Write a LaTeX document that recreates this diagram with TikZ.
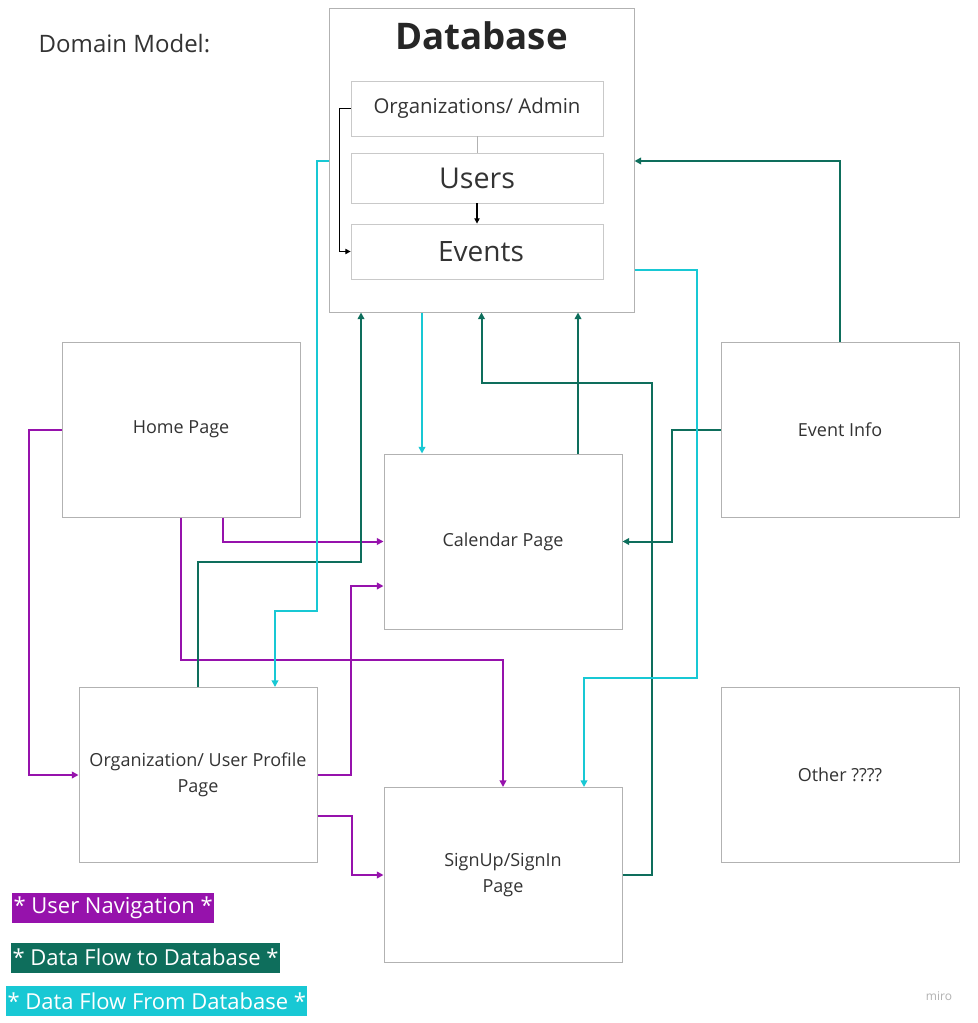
\documentclass[tikz,border=0pt]{standalone}
\usepackage{fontspec}
\setmainfont{Open Sans}
\usepackage{xcolor}
\usetikzlibrary{arrows.meta, positioning}

\definecolor{navpurple}{RGB}{150,18,172}
\definecolor{todbgreen}{RGB}{14,110,92}
\definecolor{fromdbcyan}{RGB}{24,200,212}
\definecolor{boxgray}{RGB}{178,178,178}
\definecolor{textgray}{RGB}{51,51,51}

\tikzset{
  page/.style={draw=boxgray, line width=0.75pt, minimum width=178.5pt, minimum height=131.25pt,
    inner sep=0pt, align=center, text=textgray, font=\fontsize{13.5}{19.5}\selectfont},
  table/.style={draw=boxgray!70, line width=0.6pt, minimum width=189pt, inner sep=0pt, text=textgray},
  legend/.style={anchor=west, text=white, minimum height=22.5pt, inner xsep=1pt, inner ysep=0pt,
    font=\fontsize{16.5}{18}\selectfont},
  link/.style={line width=1.5pt, -{Triangle[length=5pt, width=5pt]}},
  nav/.style={link, draw=navpurple},
  todb/.style={link, draw=todbgreen},
  fromdb/.style={link, draw=fromdbcyan},
  inner/.style={line width=0.9pt, -{Triangle[length=4pt, width=4pt]}}
}

\begin{document}
\begin{tikzpicture}[x=0.75pt, y=-0.75pt]
\useasboundingbox (0,0) rectangle (977,1023);
\fill[white] (0,0) rectangle (977,1023);

\node[anchor=west, text=textgray, font=\fontsize{18}{20}\selectfont] (title) at (34,44) {Domain Model:};

\node[draw=boxgray, line width=0.75pt, minimum width=228.75pt, minimum height=227.25pt] (database) at (481.5,160.5) {};
\node[font=\fontsize{27.5}{30}\bfseries\selectfont, text=black!85] (dbname) at (481.5,36) {Database};
\node[table, minimum height=41.25pt, font=\fontsize{15.3}{17}\selectfont] (orgs) at (477,108.5) {Organizations/ Admin};
\node[table, minimum height=37.5pt, font=\fontsize{21.5}{24}\selectfont] (users) at (477,178) {Users};
\node[table, minimum height=41.25pt, font=\fontsize{21}{24}\selectfont] (events) at (477,251.5) {\hspace{6pt}Events};

\draw[line width=0.5pt, boxgray] (orgs.south) -- (users.north);
\draw[inner] (users.south) -- (events.north);
\draw[inner] (orgs.west) -- ++(-11,0) |- (events.west);

\node[page] (home) at (181,429.5) {Home Page};
\node[page] (calendar) at (503,541.5) {Calendar Page};
\node[page] (eventinfo) at (840,429.5) {Event Info};
\node[page] (profile) at (198,775) {Organization/ User Profile\\Page};
\node[page] (signup) at (503,875) {SignUp/SignIn\\Page};
\node[page] (other) at (840,775) {Other ????};

\draw[nav] (home.west) -- ++(-33,0) |- (profile.west);
\draw[nav] (home.south -| 223,0) |- (calendar.west);
\draw[nav] (home.south) -- ++(0,142) -| (signup.north);
\draw[nav] (profile.east) -- ++(33,0) |- (calendar.west |- 0,586);
\draw[nav] (profile.east |- 0,816) -- ++(34,0) |- (signup.west);

\draw[todb] (profile.north) -- ++(0,-125.5) -| (database.south -| 361,0);
\draw[todb] (signup.east) -- ++(29,0) |- (481.5,383) -- (database.south);
\draw[todb] (calendar.north -| 578,0) -- (database.south -| 578,0);
\draw[todb] (eventinfo.north) |- (database.east |- 0,161);
\draw[todb] (eventinfo.west) -- ++(-49,0) |- (calendar.east);

\draw[fromdb] (database.west |- 0,161) -- ++(-12,0) |- (275,611) -- (profile.north -| 275,0);
\draw[fromdb] (database.south -| 422,0) -- (calendar.north -| 422,0);
\draw[fromdb] (database.east |- 0,270) -- ++(62,0) |- (584,678) -- (signup.north -| 584,0);

\node[legend, fill=navpurple] (navkey) at (12,908) {* User Navigation *};
\node[legend, fill=todbgreen] (todbkey) at (11,957.5) {* Data Flow to Database *};
\node[legend, fill=fromdbcyan] (fromdbkey) at (6,1001) {* Data Flow From Database *};

\node[text=boxgray, font=\fontsize{9}{10}\selectfont] (miro) at (939,996) {miro};
\end{tikzpicture}
\end{document}
